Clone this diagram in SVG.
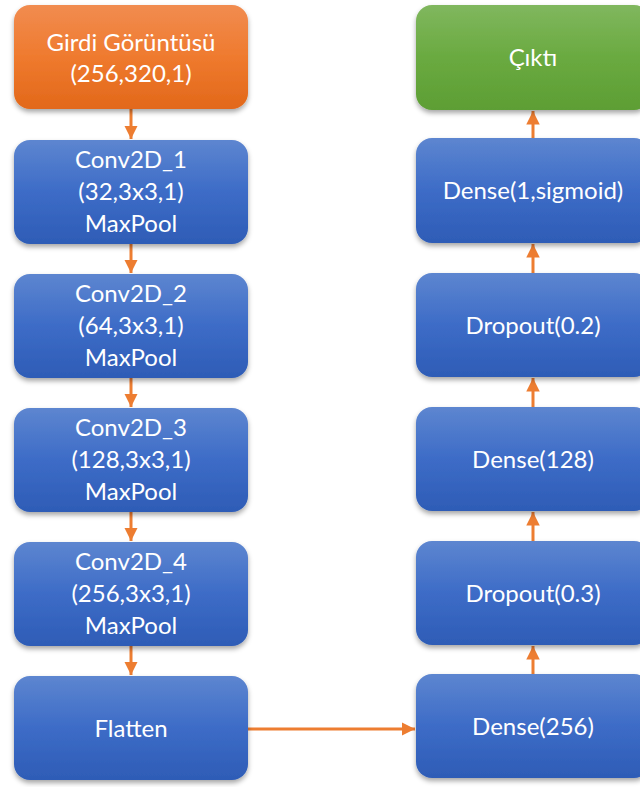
<svg xmlns="http://www.w3.org/2000/svg" width="640" height="787" viewBox="0 0 640 787">
  <style>
    .box { filter: url(#shadow); }
    .lbl { font-family: Lato, "Open Sans", "Liberation Sans", sans-serif; font-size: 24px; fill: #ffffff; text-anchor: middle; }
    .wire { stroke: #ed7d31; stroke-width: 3; fill: none; marker-end: url(#head); }
  </style>
  <defs>
    <linearGradient id="gBlue" x1="0" y1="0" x2="0" y2="1">
      <stop offset="0" stop-color="#5d86d0"/>
      <stop offset="0.5" stop-color="#3d6cc7"/>
      <stop offset="1" stop-color="#2e5cb6"/>
    </linearGradient>
    <linearGradient id="gOrange" x1="0" y1="0" x2="0" y2="1">
      <stop offset="0" stop-color="#f18c50"/>
      <stop offset="0.5" stop-color="#ef7a2e"/>
      <stop offset="1" stop-color="#e2681a"/>
    </linearGradient>
    <linearGradient id="gGreen" x1="0" y1="0" x2="0" y2="1">
      <stop offset="0" stop-color="#80b75e"/>
      <stop offset="0.5" stop-color="#6aaa40"/>
      <stop offset="1" stop-color="#5d9e34"/>
    </linearGradient>
    <filter id="shadow" x="-10%" y="-10%" width="120%" height="130%">
      <feDropShadow dx="0" dy="3" stdDeviation="2.5" flood-color="#000000" flood-opacity="0.35"/>
    </filter>
    <marker id="head" viewBox="0 0 10 10" refX="10" refY="5" markerWidth="4.5" markerHeight="4.5" orient="auto" markerUnits="strokeWidth">
      <path d="M0,0 L10,5 L0,10 Z" fill="#ed7d31"/>
    </marker>
  </defs>

  <!-- connectors -->
  <g id="connectors">
    <line class="wire" x1="131" y1="109" x2="131" y2="139"/>
    <line class="wire" x1="131" y1="244" x2="131" y2="273"/>
    <line class="wire" x1="131" y1="378" x2="131" y2="407"/>
    <line class="wire" x1="131" y1="512" x2="131" y2="541"/>
    <line class="wire" x1="131" y1="646" x2="131" y2="675"/>
    <line class="wire" x1="248" y1="729" x2="415" y2="729"/>
    <line class="wire" x1="533" y1="674" x2="533" y2="646"/>
    <line class="wire" x1="533" y1="541" x2="533" y2="512"/>
    <line class="wire" x1="533" y1="407" x2="533" y2="378"/>
    <line class="wire" x1="533" y1="273" x2="533" y2="244"/>
    <line class="wire" x1="533" y1="138" x2="533" y2="111"/>
  </g>

  <!-- left column -->
  <g id="input">
    <rect class="box" x="14" y="5" width="234" height="104" rx="16" fill="url(#gOrange)"/>
    <text class="lbl" x="131" y="51">Girdi Görüntüsü</text>
    <text class="lbl" x="131" y="82">(256,320,1)</text>
  </g>
  <g id="conv1">
    <rect class="box" x="14" y="140" width="234" height="104" rx="16" fill="url(#gBlue)"/>
    <text class="lbl" x="131" y="168">Conv2D_1</text>
    <text class="lbl" x="131" y="200">(32,3x3,1)</text>
    <text class="lbl" x="131" y="232">MaxPool</text>
  </g>
  <g id="conv2">
    <rect class="box" x="14" y="274" width="234" height="104" rx="16" fill="url(#gBlue)"/>
    <text class="lbl" x="131" y="302">Conv2D_2</text>
    <text class="lbl" x="131" y="334">(64,3x3,1)</text>
    <text class="lbl" x="131" y="366">MaxPool</text>
  </g>
  <g id="conv3">
    <rect class="box" x="14" y="408" width="234" height="104" rx="16" fill="url(#gBlue)"/>
    <text class="lbl" x="131" y="436">Conv2D_3</text>
    <text class="lbl" x="131" y="468">(128,3x3,1)</text>
    <text class="lbl" x="131" y="500">MaxPool</text>
  </g>
  <g id="conv4">
    <rect class="box" x="14" y="542" width="234" height="104" rx="16" fill="url(#gBlue)"/>
    <text class="lbl" x="131" y="570">Conv2D_4</text>
    <text class="lbl" x="131" y="602">(256,3x3,1)</text>
    <text class="lbl" x="131" y="634">MaxPool</text>
  </g>
  <g id="flatten">
    <rect class="box" x="14" y="676" width="234" height="104" rx="16" fill="url(#gBlue)"/>
    <text class="lbl" x="131" y="737">Flatten</text>
  </g>

  <!-- right column -->
  <g id="dense256">
    <rect class="box" x="416" y="674" width="234" height="104" rx="16" fill="url(#gBlue)"/>
    <text class="lbl" x="533" y="735">Dense(256)</text>
  </g>
  <g id="dropout03">
    <rect class="box" x="416" y="541" width="234" height="104" rx="16" fill="url(#gBlue)"/>
    <text class="lbl" x="533" y="602">Dropout(0.3)</text>
  </g>
  <g id="dense128">
    <rect class="box" x="416" y="407" width="234" height="104" rx="16" fill="url(#gBlue)"/>
    <text class="lbl" x="533" y="468">Dense(128)</text>
  </g>
  <g id="dropout02">
    <rect class="box" x="416" y="273" width="234" height="104" rx="16" fill="url(#gBlue)"/>
    <text class="lbl" x="533" y="334">Dropout(0.2)</text>
  </g>
  <g id="dense1">
    <rect class="box" x="416" y="138" width="234" height="105" rx="16" fill="url(#gBlue)"/>
    <text class="lbl" x="533" y="199">Dense(1,sigmoid)</text>
  </g>
  <g id="output">
    <rect class="box" x="416" y="5" width="234" height="105" rx="16" fill="url(#gGreen)"/>
    <text class="lbl" x="533" y="66">Çıktı</text>
  </g>
</svg>
